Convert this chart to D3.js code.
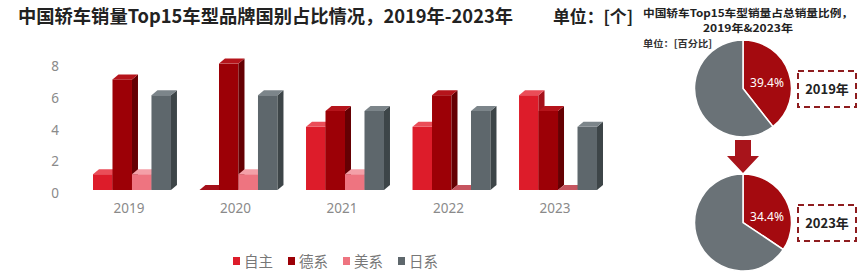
<!DOCTYPE html>
<html>
<head>
<meta charset="UTF-8"/>
<script src="https://d3js.org/d3.v7.min.js"></script>
<style>
body { margin: 0; background: #fff; }
svg { font-family: "Noto Sans CJK SC", "Noto Sans", sans-serif; }
</style>
</head>
<body>
<div id="chart"></div>
<script>
// data
var years = ["2019", "2020", "2021", "2022", "2023"];
var series = ["自主", "德系", "美系", "日系"];
var ziZhu = [1, 0, 4, 4, 6];
var deXi = [7, 8, 5, 6, 5];
var meiXi = [1, 1, 1, 0, 0];
var riXi = [6, 6, 5, 5, 4];
var yTicks = [0, 2, 4, 6, 8];
var pieYears = ["2019年", "2023年"];
var pieShares = [39.4, 34.4];

var values = [ziZhu, deXi, meiXi, riXi];
var front = ["#dd1c2a", "#9c0006", "#ee7480", "#5e676c"];
var top_ = ["#ea4d58", "#b5141b", "#f4a0a8", "#7c858a"];
var side = ["#a5101a", "#650003", "#c65560", "#3d4548"];

var W = 865, H = 277;
var svg = d3.select("#chart").append("svg")
	.attr("width", W)
	.attr("height", H);

// titles
svg.append("text")
	.attr("x", 18).attr("y", 23)
	.attr("font-size", 18.5).attr("font-weight", "bold").attr("fill", "#222")
	.attr("textLength", 495).attr("lengthAdjust", "spacingAndGlyphs")
	.text("中国轿车销量Top15车型品牌国别占比情况，2019年-2023年");
svg.append("text")
	.attr("x", 553).attr("y", 23)
	.attr("font-size", 17).attr("font-weight", "bold").attr("fill", "#222")
	.attr("textLength", 80).attr("lengthAdjust", "spacingAndGlyphs")
	.text("单位：[个]");

// bar chart
var x0 = d3.scaleBand().domain(years).range([93, 597]).paddingInner(0.268).paddingOuter(0);
var x1 = d3.scaleBand().domain(series).range([0, x0.bandwidth()]).padding(0);
var y = d3.scaleLinear().domain([0, 8]).range([190, 63.6]);
var dx = 6, dy = -5;

var yAxis = svg.append("g")
	.attr("transform", "translate(59,3)")
	.call(d3.axisLeft(y).tickValues(yTicks).tickSize(0).tickPadding(0));
yAxis.select(".domain").remove();
yAxis.selectAll("text").attr("fill", "#8a8a8a").attr("font-size", 13.5)
	.attr("font-family", "\"Noto Sans\", sans-serif");

var xAxis = svg.append("g")
	.attr("transform", "translate(-3,203)")
	.call(d3.axisBottom(x0).tickSize(0).tickPadding(0));
xAxis.select(".domain").remove();
xAxis.selectAll("text").attr("fill", "#8a8a8a").attr("font-size", 13.5)
	.attr("font-family", "\"Noto Sans\", sans-serif");

var bars = [];
years.forEach(function(yr, i) {
	series.forEach(function(s, j) {
		bars.push({ year: yr, s: s, j: j, v: values[j][i] });
	});
});

var g = svg.append("g");
bars.forEach(function(d) {
	var xl = x0(d.year) + x1(d.s), xr = xl + x1.bandwidth();
	var yt = y(d.v), yb = y(0);
	var bg = g.append("g");
	if (d.v > 0) {
		bg.append("rect")
			.attr("x", xl).attr("y", yt)
			.attr("width", xr - xl).attr("height", yb - yt)
			.attr("fill", front[d.j]);
		bg.append("polygon")
			.attr("points", [[xr, yt], [xr + dx, yt + dy], [xr + dx, yb + dy], [xr, yb]].join(" "))
			.attr("fill", side[d.j]);
	}
	bg.append("polygon")
		.attr("points", [[xl, yt], [xl + dx, yt + dy], [xr + dx, yt + dy], [xr, yt]].join(" "))
		.attr("fill", d.v > 0 ? top_[d.j] : side[d.j]);
});

// legend
var lg = svg.append("g").attr("transform", "translate(233,261)");
series.forEach(function(s, j) {
	var it = lg.append("g").attr("transform", "translate(" + (j * 55) + ",0)");
	it.append("rect").attr("x", 0).attr("y", -4).attr("width", 7).attr("height", 8).attr("fill", front[j]);
	it.append("text").attr("x", 11).attr("y", 5.5)
		.attr("font-size", 14.5).attr("fill", "#777").text(s);
});

// pie charts
svg.append("text")
	.attr("x", 643).attr("y", 17)
	.attr("font-size", 10.5).attr("font-weight", "bold").attr("fill", "#222")
	.attr("textLength", 210).attr("lengthAdjust", "spacingAndGlyphs")
	.text("中国轿车Top15车型销量占总销量比例，");
svg.append("text")
	.attr("x", 703).attr("y", 32)
	.attr("font-size", 10.5).attr("font-weight", "bold").attr("fill", "#222")
	.attr("textLength", 90).attr("lengthAdjust", "spacingAndGlyphs")
	.text("2019年&2023年");
svg.append("text")
	.attr("x", 643).attr("y", 47)
	.attr("font-size", 9.5).attr("font-weight", "bold").attr("fill", "#333")
	.attr("textLength", 69).attr("lengthAdjust", "spacingAndGlyphs")
	.text("单位：[百分比]");

var pie = d3.pie().sort(null);
var arc = d3.arc().innerRadius(0).outerRadius(48.5);
var pieCy = [88.5, 222.5];
pieShares.forEach(function(p, k) {
	var pg = svg.append("g").attr("transform", "translate(743," + pieCy[k] + ")");
	pg.selectAll("path").data(pie([p, 100 - p])).enter().append("path")
		.attr("d", arc)
		.attr("fill", function(d, i) { return i === 0 ? "#a40a0f" : "#6a7277"; })
		.attr("stroke", "#fff").attr("stroke-width", 1.5);
	pg.append("text")
		.attr("x", 24).attr("y", -2).attr("text-anchor", "middle")
		.attr("font-size", 12).attr("fill", "#fff")
		.attr("font-family", "\"Noto Sans\", sans-serif")
		.text(p.toFixed(1) + "%");
	var bx = svg.append("g").attr("transform", "translate(798," + (pieCy[k] - 17.5) + ")");
	bx.append("rect").attr("width", 58).attr("height", 36)
		.attr("fill", "none").attr("stroke", "#8e1c1f").attr("stroke-width", 2)
		.attr("stroke-dasharray", "6,4");
	bx.append("text").attr("x", 29).attr("y", 23).attr("text-anchor", "middle")
		.attr("font-size", 13).attr("font-weight", "bold").attr("fill", "#222")
		.text(pieYears[k]);
});

// arrow
svg.append("polygon")
	.attr("points", [[735, 140], [751, 140], [751, 156], [759, 156], [743, 173], [727, 156], [735, 156]].join(" "))
	.attr("fill", "#a8141b");
</script>
</body>
</html>
